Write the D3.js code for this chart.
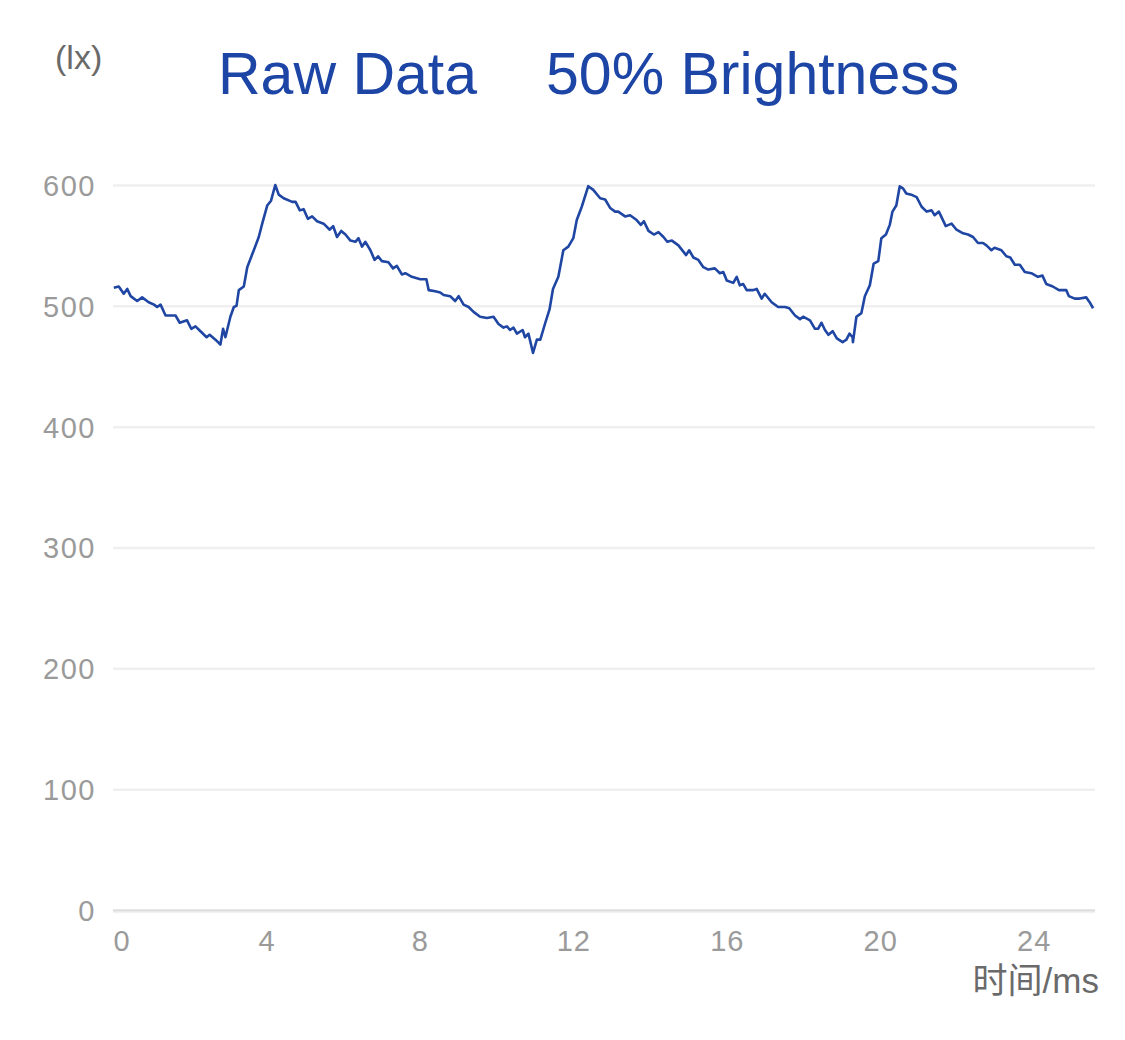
<!DOCTYPE html>
<html>
<head>
<meta charset="utf-8">
<script src="https://cdn.jsdelivr.net/npm/d3@7"></script>
<style>
  body { margin: 0; background: #fff; }
  svg { display: block; }
  .grid line { stroke: #efefef; stroke-width: 2.5; }
  .tick text { fill: #9a9a9a; font-family: "Liberation Sans", Arial, sans-serif; }
</style>
</head>
<body>
<div id="chart"></div>
<script>
// title strings
var titleLeft = "Raw Data";
var titleRight = "50% Brightness";
var yUnit = "(lx)";
var xName = "时间/ms";

var yTicks = [0, 100, 200, 300, 400, 500, 600];
var xTicks = [0, 4, 8, 12, 16, 20, 24];

// time in ms
var timeMs = [0.02, 0.15, 0.28, 0.37, 0.46, 0.63, 0.76, 0.93, 1.07, 1.15, 1.24, 1.37, 1.63, 1.74, 1.93, 2.04, 2.15, 2.28, 2.44, 2.52,
    2.67, 2.80, 2.87, 2.93, 3.06, 3.15, 3.22, 3.28, 3.41, 3.50, 3.67, 3.80, 3.89, 4.02, 4.12, 4.23, 4.32, 4.45, 4.67, 4.76,
    4.87, 4.97, 5.08, 5.19, 5.32, 5.49, 5.65, 5.74, 5.84, 5.95, 6.06, 6.19, 6.32, 6.40, 6.49, 6.58, 6.71, 6.82, 6.91, 7.01,
    7.18, 7.30, 7.40, 7.53, 7.62, 7.79, 8.01, 8.17, 8.23, 8.40, 8.53, 8.62, 8.79, 8.92, 9.01, 9.14, 9.27, 9.40, 9.57, 9.75,
    9.92, 10.05, 10.18, 10.27, 10.35, 10.44, 10.53, 10.68, 10.74, 10.83, 10.95, 11.05, 11.14, 11.27, 11.38, 11.47, 11.61, 11.74, 11.87, 12.00,
    12.09, 12.22, 12.39, 12.52, 12.70, 12.83, 12.96, 13.09, 13.17, 13.35, 13.48, 13.65, 13.76, 13.84, 13.96, 14.10, 14.22, 14.35, 14.45, 14.57,
    14.74, 14.94, 15.02, 15.13, 15.26, 15.39, 15.52, 15.69, 15.82, 15.91, 16.00, 16.17, 16.26, 16.34, 16.43, 16.52, 16.69, 16.78, 16.91, 16.99,
    17.17, 17.34, 17.52, 17.63, 17.78, 17.91, 17.99, 18.17, 18.30, 18.38, 18.47, 18.56, 18.65, 18.76, 18.87, 19.02, 19.12, 19.20, 19.28, 19.29,
    19.38, 19.51, 19.60, 19.73, 19.83, 19.95, 20.03, 20.15, 20.25, 20.32, 20.42, 20.51, 20.60, 20.68, 20.81, 20.95, 21.08, 21.21, 21.34, 21.42,
    21.53, 21.71, 21.86, 21.99, 22.16, 22.29, 22.42, 22.55, 22.68, 22.77, 22.90, 22.98, 23.16, 23.29, 23.39, 23.51, 23.64, 23.77, 23.94, 24.11,
    24.23, 24.33, 24.50, 24.66, 24.85, 24.92, 25.07, 25.20, 25.37, 25.46, 25.55];

// illuminance in lx
var luxValues = [515, 516, 510, 514, 508, 504, 507, 503, 501, 499, 501, 492, 492, 486, 488, 481, 483, 479, 474, 476,
    472, 468, 481, 474, 491, 499, 500, 513, 516, 532, 546, 557, 568, 583, 587, 600, 592, 589, 586, 586,
    579, 580, 572, 574, 570, 568, 563, 566, 557, 562, 559, 554, 553, 556, 549, 553, 546, 538, 541, 537,
    536, 531, 533, 526, 527, 524, 522, 522, 513, 512, 511, 509, 508, 504, 508, 501, 499, 495, 491, 490,
    491, 485, 482, 483, 480, 482, 477, 480, 474, 477, 461, 472, 472, 486, 497, 514, 524, 546, 549, 556,
    571, 582, 599, 596, 589, 588, 581, 578, 578, 574, 575, 571, 567, 570, 562, 559, 561, 557, 553, 554,
    550, 542, 546, 540, 538, 532, 530, 531, 527, 528, 521, 519, 524, 517, 518, 513, 513, 514, 506, 510,
    503, 499, 499, 498, 492, 489, 491, 488, 481, 481, 486, 480, 476, 479, 473, 470, 472, 477, 474, 470,
    491, 494, 508, 517, 535, 537, 556, 559, 567, 578, 583, 599, 597, 593, 592, 590, 582, 578, 579, 575,
    578, 566, 568, 563, 560, 559, 557, 552, 552, 550, 546, 548, 546, 541, 540, 534, 534, 528, 527, 524,
    525, 518, 516, 513, 513, 508, 506, 506, 507, 503, 498];

var width = 1125, height = 1040;
var margin = { left: 113, right: 30, top: 185, bottom: 130 };

var svg = d3.select("#chart").append("svg")
    .attr("width", width)
    .attr("height", height);

var x = d3.scaleLinear()
    .domain([0, 25.6])
    .range([margin.left, width - margin.right]);

var y = d3.scaleLinear()
    .domain([0, 600])
    .range([height - margin.bottom, margin.top]);

// horizontal grid + y labels
var gy = svg.append("g")
    .attr("class", "grid")
    .attr("transform", "translate(" + margin.left + ",0)")
    .call(d3.axisLeft(y)
        .tickValues(yTicks)
        .tickSize(-(width - margin.left - margin.right))
        .tickPadding(17));
gy.select(".domain").remove();
gy.selectAll(".tick text").style("font-size", "29px").attr("letter-spacing", "1.5px").attr("dy", "0.36em");

// base line at 0
svg.append("line")
    .attr("x1", margin.left)
    .attr("x2", width - margin.right)
    .attr("y1", y(0) + 0.5)
    .attr("y2", y(0) + 0.5)
    .attr("stroke", "#dcdcdc")
    .attr("stroke-width", 2);
svg.append("line")
    .attr("x1", margin.left)
    .attr("x2", width - margin.right)
    .attr("y1", y(0) + 2.5)
    .attr("y2", y(0) + 2.5)
    .attr("stroke", "#f2f2f2")
    .attr("stroke-width", 1.5);

// x labels
var gx = svg.append("g")
    .attr("transform", "translate(0," + y(0) + ")")
    .call(d3.axisBottom(x)
        .tickValues(xTicks)
        .tickSize(0)
        .tickPadding(20));
gx.select(".domain").remove();
gx.selectAll(".tick text")
    .style("font-size", "29px")
    .attr("letter-spacing", "1px")
    .attr("text-anchor", function(d) { return d === 0 ? "start" : "middle"; });

// the series
var line = d3.line()
    .x(function(d, i) { return x(timeMs[i]); })
    .y(function(d) { return y(d); });

svg.append("path")
    .datum(luxValues)
    .attr("fill", "none")
    .attr("stroke", "#1f46a3")
    .attr("stroke-width", 2.6)
    .attr("stroke-linejoin", "round")
    .attr("d", line);

// titles and axis names
svg.append("text")
    .attr("x", 218).attr("y", 94)
    .attr("fill", "#1c45a6")
    .style("font", "59px 'Liberation Sans', Arial, sans-serif")
    .text(titleLeft);

svg.append("text")
    .attr("x", 546).attr("y", 94)
    .attr("fill", "#1c45a6")
    .style("font", "59px 'Liberation Sans', Arial, sans-serif")
    .text(titleRight);

svg.append("text")
    .attr("x", 55).attr("y", 69)
    .attr("fill", "#6a6a6a")
    .style("font", "34px 'Liberation Sans', Arial, sans-serif")
    .text(yUnit);

svg.append("text")
    .attr("x", 1099).attr("y", 993)
    .attr("text-anchor", "end")
    .attr("fill", "#6a6a6a")
    .style("font", "35px 'Liberation Sans', 'Noto Sans CJK SC', sans-serif")
    .text(xName);
</script>
</body>
</html>
